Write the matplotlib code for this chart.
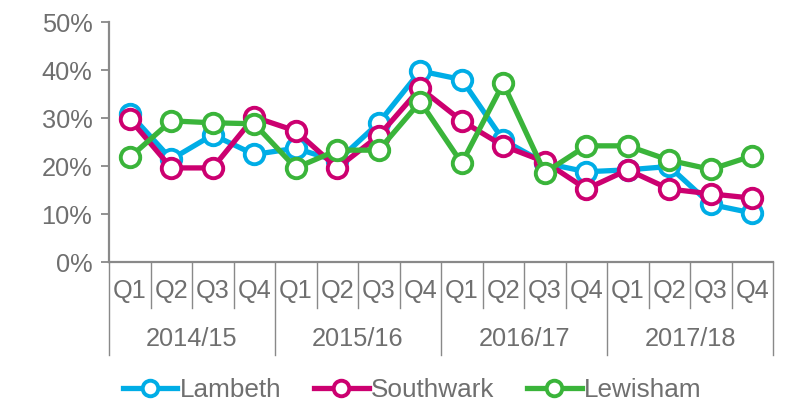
import matplotlib
matplotlib.use("Agg")
import matplotlib.pyplot as plt
import matplotlib.transforms as mtransforms

quarters = ["Q1", "Q2", "Q3", "Q4"]
years = ["2014/15", "2015/16", "2016/17", "2017/18"]

lambeth = [30.9, 21.4, 26.5, 22.4, 23.7, 21.0, 29.0, 39.8, 38.0, 25.4, 20.6, 18.8, 19.2, 19.9, 12.0, 10.2]
southwark = [29.8, 19.6, 19.6, 30.2, 27.3, 19.6, 26.3, 36.2, 29.4, 24.2, 20.9, 15.2, 19.2, 15.2, 14.2, 13.3]
lewisham = [21.8, 29.4, 29.0, 28.8, 19.6, 23.3, 23.3, 33.4, 20.6, 37.2, 18.6, 24.2, 24.2, 21.2, 19.3, 22.1]

series = [("Lambeth", lambeth, "#00ADE6"),
          ("Southwark", southwark, "#CC0070"),
          ("Lewisham", lewisham, "#3AB43A")]

plt.rcParams['font.family'] = ['Liberation Sans', 'DejaVu Sans']
gray = "#898989"
textc = "#6f6f6f"
fs = 18.3
lfs = 18.8

fig = plt.figure(figsize=(7.9, 4.03), dpi=100)
ax = fig.add_axes([109/790, 141/403, (773-109)/790, (262-22)/403])

n = len(lambeth)
x = list(range(n))
for name, vals, col in series:
    ax.plot(x, vals, color=col, lw=3.8, marker='o', ms=14, mew=2.8,
            mfc='white', mec=col, label=name, solid_joinstyle='round')

ax.set_xlim(-0.5, n - 0.5)
ax.set_ylim(0, 50)
ax.set_yticks(range(0, 51, 10))
ax.set_yticklabels([f"{v}%" for v in range(0, 51, 10)], fontsize=fs, color=textc)
ax.tick_params(axis='y', length=6, width=1.3, color=gray, pad=6)
ax.set_xticks([])
for s in ['top', 'right']:
    ax.spines[s].set_visible(False)
for s in ['left', 'bottom']:
    ax.spines[s].set_color(gray)
    ax.spines[s].set_linewidth(1.6)

trans = mtransforms.blended_transform_factory(ax.transData, ax.transAxes)
px = 1.0 / (262 - 22)  # axes fraction per pixel vertically
q_bottom = -(308 - 262) * px
y_bottom = -(355 - 262) * px
for k in range(n + 1):
    xb = k - 0.5
    yb = y_bottom if k % 4 == 0 else q_bottom
    ax.plot([xb, xb], [0, yb], transform=trans, color=gray, lw=1.0, clip_on=False)

for i in range(n):
    ax.text(i, -(291 - 262) * px, quarters[i % 4], transform=trans, ha='center', va='center',
            fontsize=fs, color=textc)
for j, yr in enumerate(years):
    ax.text(4 * j + 1.5, -(339 - 262) * px, yr, transform=trans, ha='center', va='center',
            fontsize=fs, color=textc)

leg = fig.legend(loc='center', bbox_to_anchor=(412/790, 1 - 390/403), ncol=3, frameon=False,
                 fontsize=lfs, handlelength=2.1, handletextpad=0.08, columnspacing=1.25,
                 markerscale=0.8, labelcolor=textc)

fig.savefig("out.png", dpi=100)
